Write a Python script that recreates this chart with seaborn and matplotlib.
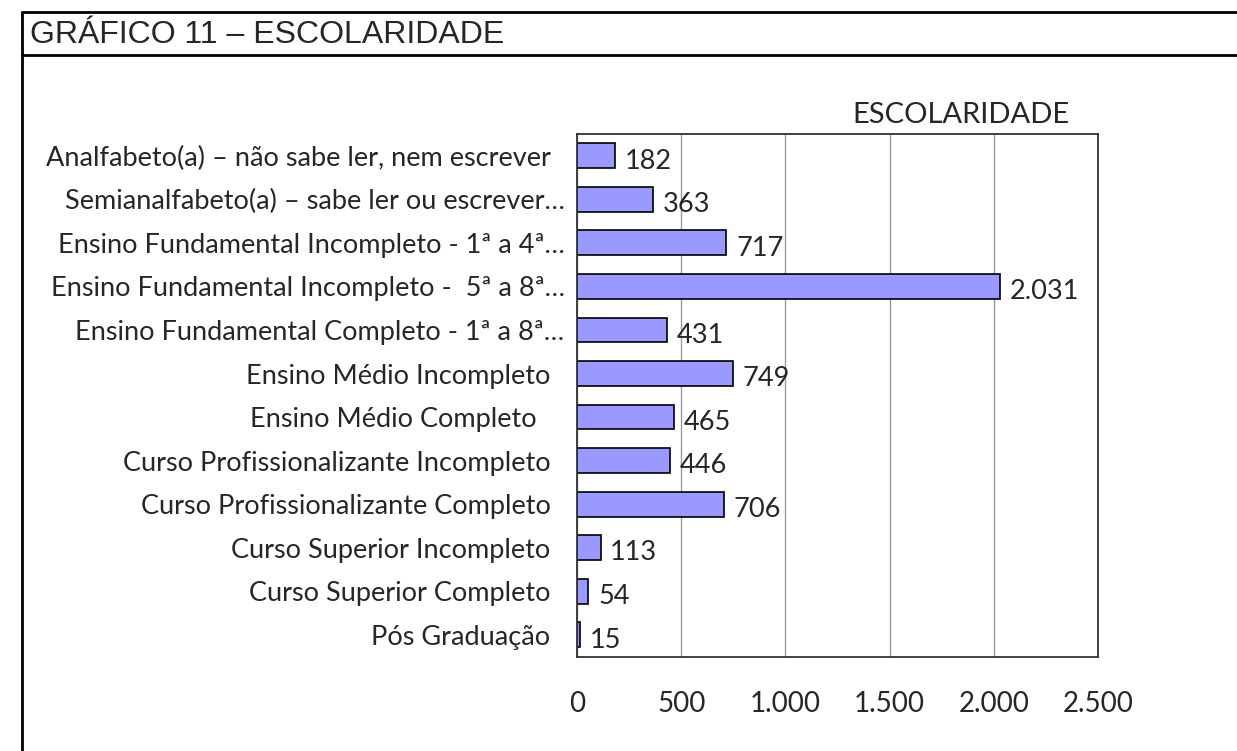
import matplotlib
matplotlib.use("Agg")
import matplotlib.pyplot as plt
from matplotlib.lines import Line2D
from matplotlib.ticker import FixedLocator
from matplotlib.transforms import ScaledTranslation
import numpy as np
import pandas as pd
import seaborn as sns

categories = [
    "Analfabeto(a) – não sabe ler, nem escrever",
    "Semianalfabeto(a) – sabe ler ou escrever…",
    "Ensino Fundamental Incompleto - 1ª a 4ª…",
    "Ensino Fundamental Incompleto -  5ª a 8ª…",
    "Ensino Fundamental Completo - 1ª a 8ª…",
    "Ensino Médio Incompleto",
    "Ensino Médio Completo  ",
    "Curso Profissionalizante Incompleto",
    "Curso Profissionalizante Completo",
    "Curso Superior Incompleto",
    "Curso Superior Completo",
    "Pós Graduação",
]
values = [182, 363, 717, 2031, 431, 749, 465, 446, 706, 113, 54, 15]
x_ticks = [0, 500, 1000, 1500, 2000, 2500]


def br(v):
    return f"{v:,}".replace(",", ".")


sns.set_style("white")
plt.rcParams["font.family"] = ["Lato", "DejaVu Sans"]

df = pd.DataFrame({"cat": categories, "val": values})

fig = plt.figure(figsize=(12.37, 7.51), dpi=100)
ax = fig.add_axes([577 / 1237, 0.1258, 521 / 1237, 0.6957])

sns.barplot(data=df, x="val", y="cat", orient="h", color="#9999FF",
            saturation=1, edgecolor="black", linewidth=1.2, width=0.57, ax=ax)

ax.set_xlim(0, 2500)
ax.set_ylim(len(categories) - 0.5, -0.5)
ax.set_xticks(x_ticks)
ax.set_xticklabels([br(t) for t in x_ticks], fontsize=20)
ax.tick_params(axis="x", direction="out", length=8, width=1, color="#555555", pad=17)
ax.tick_params(axis="y", which="major", length=0, pad=19, labelsize=19.5)
ax.yaxis.set_minor_locator(FixedLocator(np.arange(-0.5, len(categories), 1)))
ax.tick_params(axis="y", which="minor", direction="out", length=7, width=1, color="#555555")
ax.set_xlabel("")
ax.set_ylabel("")
ax.grid(axis="x", color="#9a9a9a", linewidth=1)
ax.set_axisbelow(True)
for s in ax.spines.values():
    s.set_visible(True)
    s.set_color("#333333")
    s.set_linewidth(1.3)

# truncated labels run a bit closer to the axis in the original
shift = ScaledTranslation(14 / 100, 0, fig.dpi_scale_trans)
for lab in ax.get_yticklabels():
    if lab.get_text().endswith("…"):
        lab.set_transform(lab.get_transform() + shift)

for i, v in enumerate(values):
    ax.annotate(br(v), xy=(v, i), xytext=(7, -2), textcoords="offset points",
                ha="left", va="center_baseline", fontsize=19.5)

fig.text(961 / 1237, 1 - 115 / 751, "ESCOLARIDADE", fontsize=21, ha="center", va="center")

# outer frame of the document figure
fig.text(30 / 1237, 1 - 35 / 751, "GRÁFICO 11 – ESCOLARIDADE", fontsize=23,
         family="Liberation Sans", ha="left", va="center")
fig.add_artist(Line2D([22 / 1237, 22 / 1237], [0, 1 - 12 / 751], color="black", lw=2))
fig.add_artist(Line2D([22 / 1237, 1], [1 - 12 / 751, 1 - 12 / 751], color="black", lw=2))
fig.add_artist(Line2D([22 / 1237, 1], [1 - 55 / 751, 1 - 55 / 751], color="black", lw=2))

fig.savefig("out.png", dpi=100)
plt.close(fig)
